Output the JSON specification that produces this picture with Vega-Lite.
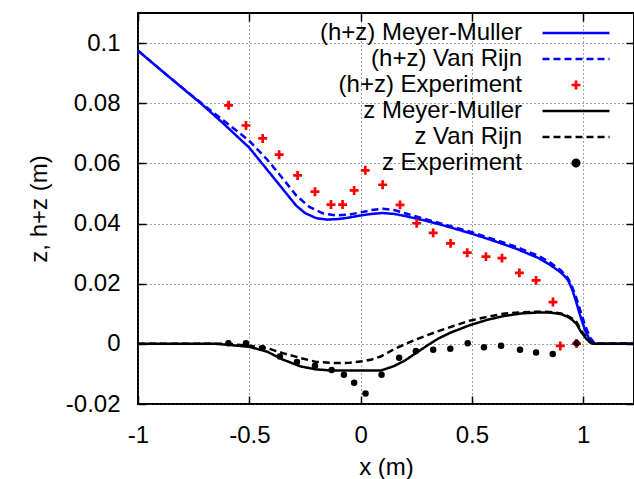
{
  "$schema": "https://vega.github.io/schema/vega-lite/v6.json",
  "width": 496,
  "height": 391,
  "autosize": "none",
  "padding": {"left": 138, "top": 13, "right": 0, "bottom": 75},
  "background": "white",
  "config": {
    "font": "Liberation Sans",
    "view": {"stroke": "black", "strokeWidth": 2},
    "axis": {
      "labelFont": "Liberation Sans",
      "titleFont": "Liberation Sans",
      "labelFontSize": 24,
      "titleFontSize": 24,
      "titleFontWeight": "normal",
      "labelColor": "black",
      "titleColor": "black",
      "domain": false,
      "tickColor": "black",
      "tickWidth": 1.5,
      "tickSize": -8,
      "gridColor": "#444",
      "gridDash": [1, 3],
      "gridWidth": 1
    }
  },
  "resolve": {"axis": {"x": "independent", "y": "independent"}},
  "data": {
    "values": [
      {"series": "(h+z) Meyer-Muller", "x": -1.0, "y": 0.0975},
      {"series": "(h+z) Meyer-Muller", "x": -0.9, "y": 0.0912},
      {"series": "(h+z) Meyer-Muller", "x": -0.8, "y": 0.0850},
      {"series": "(h+z) Meyer-Muller", "x": -0.72, "y": 0.0801},
      {"series": "(h+z) Meyer-Muller", "x": -0.62, "y": 0.0735},
      {"series": "(h+z) Meyer-Muller", "x": -0.5, "y": 0.0652},
      {"series": "(h+z) Meyer-Muller", "x": -0.42, "y": 0.0579},
      {"series": "(h+z) Meyer-Muller", "x": -0.35, "y": 0.0515},
      {"series": "(h+z) Meyer-Muller", "x": -0.29, "y": 0.0460},
      {"series": "(h+z) Meyer-Muller", "x": -0.25, "y": 0.0435},
      {"series": "(h+z) Meyer-Muller", "x": -0.2, "y": 0.0418},
      {"series": "(h+z) Meyer-Muller", "x": -0.15, "y": 0.0413},
      {"series": "(h+z) Meyer-Muller", "x": -0.1, "y": 0.0415},
      {"series": "(h+z) Meyer-Muller", "x": -0.05, "y": 0.0420},
      {"series": "(h+z) Meyer-Muller", "x": 0.0, "y": 0.0427},
      {"series": "(h+z) Meyer-Muller", "x": 0.05, "y": 0.0432},
      {"series": "(h+z) Meyer-Muller", "x": 0.1, "y": 0.0435},
      {"series": "(h+z) Meyer-Muller", "x": 0.15, "y": 0.0432},
      {"series": "(h+z) Meyer-Muller", "x": 0.2, "y": 0.0425},
      {"series": "(h+z) Meyer-Muller", "x": 0.3, "y": 0.0408},
      {"series": "(h+z) Meyer-Muller", "x": 0.4, "y": 0.0388},
      {"series": "(h+z) Meyer-Muller", "x": 0.5, "y": 0.0366},
      {"series": "(h+z) Meyer-Muller", "x": 0.6, "y": 0.0342},
      {"series": "(h+z) Meyer-Muller", "x": 0.7, "y": 0.0316},
      {"series": "(h+z) Meyer-Muller", "x": 0.8, "y": 0.0285},
      {"series": "(h+z) Meyer-Muller", "x": 0.85, "y": 0.0263},
      {"series": "(h+z) Meyer-Muller", "x": 0.9, "y": 0.0237},
      {"series": "(h+z) Meyer-Muller", "x": 0.93, "y": 0.0214},
      {"series": "(h+z) Meyer-Muller", "x": 0.95, "y": 0.0182},
      {"series": "(h+z) Meyer-Muller", "x": 0.97, "y": 0.0135},
      {"series": "(h+z) Meyer-Muller", "x": 0.99, "y": 0.0085},
      {"series": "(h+z) Meyer-Muller", "x": 1.01, "y": 0.0042},
      {"series": "(h+z) Meyer-Muller", "x": 1.03, "y": 0.0012},
      {"series": "(h+z) Meyer-Muller", "x": 1.05, "y": 0.0},
      {"series": "(h+z) Meyer-Muller", "x": 1.228, "y": 0.0},

      {"series": "(h+z) Van Rijn", "x": -1.0, "y": 0.0975},
      {"series": "(h+z) Van Rijn", "x": -0.9, "y": 0.0912},
      {"series": "(h+z) Van Rijn", "x": -0.8, "y": 0.0851},
      {"series": "(h+z) Van Rijn", "x": -0.72, "y": 0.0803},
      {"series": "(h+z) Van Rijn", "x": -0.62, "y": 0.0745},
      {"series": "(h+z) Van Rijn", "x": -0.5, "y": 0.0675},
      {"series": "(h+z) Van Rijn", "x": -0.42, "y": 0.0613},
      {"series": "(h+z) Van Rijn", "x": -0.35, "y": 0.0550},
      {"series": "(h+z) Van Rijn", "x": -0.29, "y": 0.0494},
      {"series": "(h+z) Van Rijn", "x": -0.23, "y": 0.0455},
      {"series": "(h+z) Van Rijn", "x": -0.17, "y": 0.0434},
      {"series": "(h+z) Van Rijn", "x": -0.11, "y": 0.0427},
      {"series": "(h+z) Van Rijn", "x": -0.05, "y": 0.0430},
      {"series": "(h+z) Van Rijn", "x": 0.0, "y": 0.0437},
      {"series": "(h+z) Van Rijn", "x": 0.05, "y": 0.0445},
      {"series": "(h+z) Van Rijn", "x": 0.1, "y": 0.0449},
      {"series": "(h+z) Van Rijn", "x": 0.15, "y": 0.0445},
      {"series": "(h+z) Van Rijn", "x": 0.2, "y": 0.0434},
      {"series": "(h+z) Van Rijn", "x": 0.3, "y": 0.0413},
      {"series": "(h+z) Van Rijn", "x": 0.4, "y": 0.0392},
      {"series": "(h+z) Van Rijn", "x": 0.5, "y": 0.0371},
      {"series": "(h+z) Van Rijn", "x": 0.6, "y": 0.0347},
      {"series": "(h+z) Van Rijn", "x": 0.7, "y": 0.0322},
      {"series": "(h+z) Van Rijn", "x": 0.8, "y": 0.0292},
      {"series": "(h+z) Van Rijn", "x": 0.85, "y": 0.0271},
      {"series": "(h+z) Van Rijn", "x": 0.9, "y": 0.0244},
      {"series": "(h+z) Van Rijn", "x": 0.93, "y": 0.0220},
      {"series": "(h+z) Van Rijn", "x": 0.95, "y": 0.0190},
      {"series": "(h+z) Van Rijn", "x": 0.97, "y": 0.0150},
      {"series": "(h+z) Van Rijn", "x": 0.99, "y": 0.0103},
      {"series": "(h+z) Van Rijn", "x": 1.01, "y": 0.0058},
      {"series": "(h+z) Van Rijn", "x": 1.03, "y": 0.0022},
      {"series": "(h+z) Van Rijn", "x": 1.05, "y": 0.0003},
      {"series": "(h+z) Van Rijn", "x": 1.06, "y": 0.0},
      {"series": "(h+z) Van Rijn", "x": 1.228, "y": 0.0},

      {"series": "z Meyer-Muller", "x": -1.0, "y": 0.0},
      {"series": "z Meyer-Muller", "x": -0.65, "y": 0.0},
      {"series": "z Meyer-Muller", "x": -0.6, "y": -0.0003},
      {"series": "z Meyer-Muller", "x": -0.5, "y": -0.0010},
      {"series": "z Meyer-Muller", "x": -0.42, "y": -0.0026},
      {"series": "z Meyer-Muller", "x": -0.35, "y": -0.0052},
      {"series": "z Meyer-Muller", "x": -0.27, "y": -0.0075},
      {"series": "z Meyer-Muller", "x": -0.2, "y": -0.0085},
      {"series": "z Meyer-Muller", "x": -0.12, "y": -0.0089},
      {"series": "z Meyer-Muller", "x": 0.0, "y": -0.0089},
      {"series": "z Meyer-Muller", "x": 0.09, "y": -0.0089},
      {"series": "z Meyer-Muller", "x": 0.15, "y": -0.0074},
      {"series": "z Meyer-Muller", "x": 0.2, "y": -0.0055},
      {"series": "z Meyer-Muller", "x": 0.25, "y": -0.0030},
      {"series": "z Meyer-Muller", "x": 0.3, "y": -0.0005},
      {"series": "z Meyer-Muller", "x": 0.35, "y": 0.0018},
      {"series": "z Meyer-Muller", "x": 0.4, "y": 0.0036},
      {"series": "z Meyer-Muller", "x": 0.49, "y": 0.0062},
      {"series": "z Meyer-Muller", "x": 0.57, "y": 0.0080},
      {"series": "z Meyer-Muller", "x": 0.64, "y": 0.0092},
      {"series": "z Meyer-Muller", "x": 0.72, "y": 0.0101},
      {"series": "z Meyer-Muller", "x": 0.79, "y": 0.0104},
      {"series": "z Meyer-Muller", "x": 0.85, "y": 0.0104},
      {"series": "z Meyer-Muller", "x": 0.9, "y": 0.0099},
      {"series": "z Meyer-Muller", "x": 0.93, "y": 0.0090},
      {"series": "z Meyer-Muller", "x": 0.95, "y": 0.0080},
      {"series": "z Meyer-Muller", "x": 0.97, "y": 0.0066},
      {"series": "z Meyer-Muller", "x": 0.99, "y": 0.0040},
      {"series": "z Meyer-Muller", "x": 1.015, "y": 0.0016},
      {"series": "z Meyer-Muller", "x": 1.03, "y": 0.0005},
      {"series": "z Meyer-Muller", "x": 1.045, "y": 0.0},
      {"series": "z Meyer-Muller", "x": 1.228, "y": 0.0},

      {"series": "z Van Rijn", "x": -1.0, "y": 0.0},
      {"series": "z Van Rijn", "x": -0.6, "y": 0.0},
      {"series": "z Van Rijn", "x": -0.5, "y": -0.0006},
      {"series": "z Van Rijn", "x": -0.42, "y": -0.0014},
      {"series": "z Van Rijn", "x": -0.35, "y": -0.0031},
      {"series": "z Van Rijn", "x": -0.27, "y": -0.0047},
      {"series": "z Van Rijn", "x": -0.2, "y": -0.0060},
      {"series": "z Van Rijn", "x": -0.12, "y": -0.0064},
      {"series": "z Van Rijn", "x": -0.05, "y": -0.0063},
      {"series": "z Van Rijn", "x": 0.01, "y": -0.0058},
      {"series": "z Van Rijn", "x": 0.05, "y": -0.0052},
      {"series": "z Van Rijn", "x": 0.09, "y": -0.0042},
      {"series": "z Van Rijn", "x": 0.16, "y": -0.0014},
      {"series": "z Van Rijn", "x": 0.25, "y": 0.0015},
      {"series": "z Van Rijn", "x": 0.34, "y": 0.0040},
      {"series": "z Van Rijn", "x": 0.42, "y": 0.0060},
      {"series": "z Van Rijn", "x": 0.49, "y": 0.0077},
      {"series": "z Van Rijn", "x": 0.57, "y": 0.0090},
      {"series": "z Van Rijn", "x": 0.64, "y": 0.0100},
      {"series": "z Van Rijn", "x": 0.72, "y": 0.0105},
      {"series": "z Van Rijn", "x": 0.79, "y": 0.0107},
      {"series": "z Van Rijn", "x": 0.85, "y": 0.0106},
      {"series": "z Van Rijn", "x": 0.9, "y": 0.0101},
      {"series": "z Van Rijn", "x": 0.93, "y": 0.0093},
      {"series": "z Van Rijn", "x": 0.95, "y": 0.0084},
      {"series": "z Van Rijn", "x": 0.97, "y": 0.0072},
      {"series": "z Van Rijn", "x": 0.99, "y": 0.0045},
      {"series": "z Van Rijn", "x": 1.02, "y": 0.0015},
      {"series": "z Van Rijn", "x": 1.035, "y": 0.0005},
      {"series": "z Van Rijn", "x": 1.05, "y": 0.0},
      {"series": "z Van Rijn", "x": 1.228, "y": 0.0},

      {"series": "(h+z) Experiment", "x": -0.593, "y": 0.0793},
      {"series": "(h+z) Experiment", "x": -0.515, "y": 0.0726},
      {"series": "(h+z) Experiment", "x": -0.440, "y": 0.0683},
      {"series": "(h+z) Experiment", "x": -0.366, "y": 0.0629},
      {"series": "(h+z) Experiment", "x": -0.283, "y": 0.0560},
      {"series": "(h+z) Experiment", "x": -0.205, "y": 0.0506},
      {"series": "(h+z) Experiment", "x": -0.133, "y": 0.0463},
      {"series": "(h+z) Experiment", "x": -0.081, "y": 0.0463},
      {"series": "(h+z) Experiment", "x": -0.029, "y": 0.0510},
      {"series": "(h+z) Experiment", "x": 0.021, "y": 0.0577},
      {"series": "(h+z) Experiment", "x": 0.099, "y": 0.0529},
      {"series": "(h+z) Experiment", "x": 0.177, "y": 0.0462},
      {"series": "(h+z) Experiment", "x": 0.252, "y": 0.0401},
      {"series": "(h+z) Experiment", "x": 0.326, "y": 0.0369},
      {"series": "(h+z) Experiment", "x": 0.404, "y": 0.0334},
      {"series": "(h+z) Experiment", "x": 0.479, "y": 0.0303},
      {"series": "(h+z) Experiment", "x": 0.563, "y": 0.0290},
      {"series": "(h+z) Experiment", "x": 0.635, "y": 0.0285},
      {"series": "(h+z) Experiment", "x": 0.713, "y": 0.0236},
      {"series": "(h+z) Experiment", "x": 0.788, "y": 0.0211},
      {"series": "(h+z) Experiment", "x": 0.864, "y": 0.0139},
      {"series": "(h+z) Experiment", "x": 0.897, "y": -0.0007},
      {"series": "(h+z) Experiment", "x": 0.970, "y": 0.0001},

      {"series": "z Experiment", "x": -0.594, "y": 0.0002},
      {"series": "z Experiment", "x": -0.515, "y": 0.0002},
      {"series": "z Experiment", "x": -0.441, "y": -0.0014},
      {"series": "z Experiment", "x": -0.363, "y": -0.0042},
      {"series": "z Experiment", "x": -0.286, "y": -0.0060},
      {"series": "z Experiment", "x": -0.205, "y": -0.0073},
      {"series": "z Experiment", "x": -0.130, "y": -0.0087},
      {"series": "z Experiment", "x": -0.075, "y": -0.0103},
      {"series": "z Experiment", "x": -0.029, "y": -0.0129},
      {"series": "z Experiment", "x": 0.022, "y": -0.0165},
      {"series": "z Experiment", "x": 0.094, "y": -0.0103},
      {"series": "z Experiment", "x": 0.173, "y": -0.0046},
      {"series": "z Experiment", "x": 0.248, "y": -0.0024},
      {"series": "z Experiment", "x": 0.326, "y": -0.0020},
      {"series": "z Experiment", "x": 0.403, "y": -0.0016},
      {"series": "z Experiment", "x": 0.481, "y": 0.0002},
      {"series": "z Experiment", "x": 0.554, "y": -0.0011},
      {"series": "z Experiment", "x": 0.631, "y": -0.0006},
      {"series": "z Experiment", "x": 0.716, "y": -0.0020},
      {"series": "z Experiment", "x": 0.788, "y": -0.0029},
      {"series": "z Experiment", "x": 0.863, "y": -0.0034},
      {"series": "z Experiment", "x": 0.970, "y": 0.0002}
    ]
  },
  "layer": [
    {
      "transform": [{"filter": "indexof(datum.series, 'Experiment') < 0"}],
      "mark": {"type": "line", "strokeWidth": 2.5},
      "encoding": {
        "x": {
          "field": "x", "type": "quantitative",
          "scale": {"domain": [-1, 1.228], "nice": false, "zero": false},
          "axis": {"title": "x (m)", "values": [-1, -0.5, 0, 0.5, 1], "labelExpr": "'' + datum.value", "labelPadding": 27, "titlePadding": 8, "grid": true, "labelFlush": false}
        },
        "y": {
          "field": "y", "type": "quantitative",
          "scale": {"domain": [-0.02, 0.11], "nice": false, "zero": false},
          "axis": {"title": "z, h+z (m)", "values": [-0.02, 0, 0.02, 0.04, 0.06, 0.08, 0.1], "labelExpr": "'' + datum.value", "labelPadding": 26, "titlePadding": 14, "grid": true, "labelFlush": false}
        },
        "color": {
          "field": "series", "type": "nominal",
          "scale": {
            "domain": ["(h+z) Meyer-Muller", "(h+z) Van Rijn", "(h+z) Experiment", "z Meyer-Muller", "z Van Rijn", "z Experiment"],
            "range": ["#0000ff", "#0000ff", "#ff0000", "#000000", "#000000", "#000000"]
          },
          "legend": {
            "title": null,
            "orient": "none",
            "legendX": 426,
            "legendY": 8,
            "padding": 0,
            "labelFont": "Liberation Sans",
            "labelFontSize": 24,
            "labelColor": "black",
            "labelAlign": "right",
            "labelOffset": -66,
            "labelLimit": 400,
            "rowPadding": 2,
            "symbolSize": 100,
            "symbolStrokeWidth": 2.5,
            "encode": {
              "symbols": {
                "update": {
                  "shape": {"signal": "datum.value == '(h+z) Experiment' ? 'M-1,0H1M0,-1V1' : datum.value == 'z Experiment' ? 'circle' : 'M-6.7,0H6.7'"},
                  "size": {"signal": "datum.value == '(h+z) Experiment' ? 80 : datum.value == 'z Experiment' ? 42 : 100"},
                  "fill": {"signal": "datum.value == 'z Experiment' ? 'black' : 'transparent'"},
                  "stroke": {"signal": "datum.value == 'z Experiment' ? 'transparent' : datum.value == '(h+z) Experiment' ? '#ff0000' : indexof(datum.value, '(h+z)') == 0 ? '#0000ff' : '#000000'"},
                  "strokeWidth": {"signal": "datum.value == '(h+z) Experiment' ? 2.7 : 2.5"},
                  "strokeDash": {"signal": "indexof(datum.value, 'Van Rijn') >= 0 ? [7, 4] : [1, 0]"},
                  "opacity": {"value": 1}
                }
              }
            }
          }
        },
        "strokeDash": {
          "field": "series", "type": "nominal",
          "scale": {
            "domain": ["(h+z) Meyer-Muller", "(h+z) Van Rijn", "z Meyer-Muller", "z Van Rijn"],
            "range": [[1, 0], [7, 4], [1, 0], [7, 4]]
          },
          "legend": null
        }
      }
    },
    {
      "transform": [{"filter": "datum.series == '(h+z) Experiment'"}],
      "mark": {"type": "point", "shape": "M-1,0H1M0,-1V1", "size": 80, "filled": false, "stroke": "#ff0000", "strokeWidth": 2.7, "opacity": 1},
      "encoding": {
        "x": {
          "field": "x", "type": "quantitative",
          "axis": {"orient": "top", "title": null, "values": [-1, -0.5, 0, 0.5, 1], "labels": false, "grid": false}
        },
        "y": {
          "field": "y", "type": "quantitative",
          "axis": {"orient": "right", "title": null, "values": [-0.02, 0, 0.02, 0.04, 0.06, 0.08, 0.1], "labels": false, "grid": false}
        }
      }
    },
    {
      "transform": [{"filter": "datum.series == 'z Experiment'"}],
      "mark": {"type": "point", "shape": "circle", "size": 42, "filled": true, "fill": "#000000", "opacity": 1},
      "encoding": {
        "x": {"field": "x", "type": "quantitative", "axis": null},
        "y": {"field": "y", "type": "quantitative", "axis": null}
      }
    }
  ]
}
